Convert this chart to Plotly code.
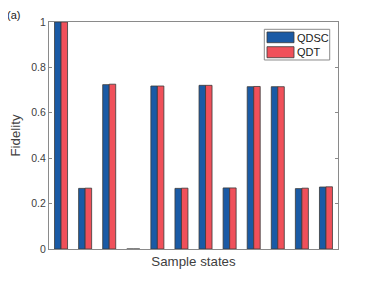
import plotly.graph_objects as go

states = list(range(1, 13))
qdsc = [1.0, 0.267, 0.724, 0.0, 0.718, 0.267, 0.721, 0.269, 0.715, 0.715, 0.266, 0.273]
qdt = [1.0, 0.268, 0.726, 0.0, 0.718, 0.268, 0.721, 0.269, 0.716, 0.715, 0.268, 0.274]
yticks = [0, 0.2, 0.4, 0.6, 0.8, 1]
yticklabels = ["0", "0.2", "0.4", "0.6", "0.8", "1"]
series_names = ["QDSC", "QDT"]
series_colors = ["#1a5aa5", "#f0505a"]

# page has an 8px body margin, so the figure is 8px smaller and shifted
W, H = 366, 273
L, R, T, B = 41, 36, 14, 32
font = "Liberation Sans, Arial, sans-serif"
axcol = "#8a8a8a"
txtcol = "#404040"
edge = "#3a3a3a"

fig = go.Figure()
for name, vals, col in zip(series_names, [qdsc, qdt], series_colors):
    fig.add_trace(go.Bar(x=states, y=vals, name=name,
                         marker=dict(color=col, line=dict(color=edge, width=0.8))))

# custom MATLAB-like legend (paper coordinates)
shapes = [dict(type="rect", xref="paper", yref="paper", x0=0.7450, x1=0.9713,
               y0=0.8326, y1=0.9678, line=dict(color=axcol, width=1), fillcolor="white", layer="above")]
sw_y = [(0.9088, 0.9559), (0.8427, 0.8912)]
txt_y = [0.9282, 0.8665]
annotations = []
for (y0, y1), ty, name, col in zip(sw_y, txt_y, series_names, series_colors):
    shapes.append(dict(type="rect", xref="paper", yref="paper", x0=0.7543, x1=0.8478,
                       y0=y0, y1=y1, line=dict(color=edge, width=0.8), fillcolor=col, layer="above"))
    annotations.append(dict(text=name, xref="paper", yref="paper", x=0.8536, y=ty,
                            xanchor="left", yanchor="middle", showarrow=False, xshift=-1,
                            font=dict(size=11, color="#202020")))
annotations.append(dict(text="(a)", xref="paper", yref="paper", x=-0.1488, y=1.0308,
                        xanchor="left", yanchor="middle", showarrow=False, xshift=-1,
                        font=dict(size=11, color="#202020")))

fig.update_layout(
    width=W, height=H,
    margin=dict(l=L, r=R, t=T, b=B, autoexpand=False),
    paper_bgcolor="white", plot_bgcolor="white",
    barmode="group", bargap=0.46, bargroupgap=0.0,
    font=dict(family=font, size=11, color=txtcol),
    showlegend=False,
    xaxis=dict(range=[0.5, 12.5], showticklabels=False, ticks="", showgrid=False,
               zeroline=False, showline=True, linecolor=axcol, linewidth=1, mirror=True,
               automargin=False,
               title=dict(text="Sample states", font=dict(size=13.3, color=txtcol), standoff=7)),
    yaxis=dict(range=[0, 1], tickvals=yticks, ticktext=yticklabels, ticks="inside",
               ticklen=3, tickcolor=axcol, showgrid=False, zeroline=False,
               showline=True, linecolor=axcol, linewidth=1, mirror="ticks",
               automargin=False,
               tickfont=dict(size=10.5, color=txtcol),
               title=dict(text="Fidelity", font=dict(size=13.3, color=txtcol), standoff=8)),
    shapes=shapes,
    annotations=annotations,
)

fig.write_html("out.html")
